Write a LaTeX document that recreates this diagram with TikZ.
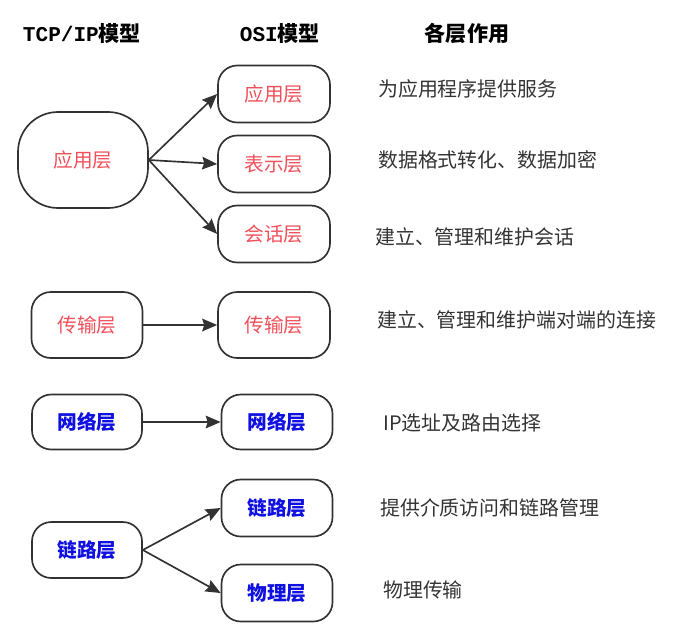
\documentclass[tikz,border=0pt]{standalone}
\usepackage{fontspec}
\usepackage{tikz}
\usetikzlibrary{arrows.meta}
\newfontfamily\cjk{Noto Sans CJK SC}
\newfontfamily\hdmono{Liberation Mono}
\definecolor{layred}{RGB}{240,80,90}
\definecolor{layblue}{RGB}{16,16,224}
\definecolor{linegray}{RGB}{50,50,50}
\pgfdeclarelayer{bg}
\pgfsetlayers{bg,main}

\begin{document}
\begin{tikzpicture}[
        layer/.style={draw=linegray, line width=0.05cm, rounded corners=0.58cm, minimum width=3.36cm, minimum height=1.71cm, inner sep=0pt, font=\cjk\fontsize{16.8}{18}\selectfont},
        upper/.style={layer, text=layred},
        lower/.style={layer, text=layblue, font=\cjk\bfseries\fontsize{16.8}{18}\selectfont},
        head/.style={inner sep=0pt, font=\cjk\bfseries\fontsize{18}{20}\selectfont},
        role/.style={anchor=west, inner sep=0pt, text=black!80, font=\cjk\fontsize{17}{19}\selectfont},
        link/.style={draw=linegray, line width=0.05cm, -{Stealth[length=0.45cm,width=0.38cm,inset=0.06cm]}}]
        \useasboundingbox (0cm, 0cm) rectangle (20.82cm, -19.08cm);
        % column titles
        \node (h0) [head] at (2.46cm, -0.99cm) {{\hdmono\bfseries TCP/IP}模型};
        \node (h1) [head] at (8.40cm, -0.99cm) {{\hdmono\bfseries OSI}模型};
        \node (h2) [head] at (14.01cm, -0.99cm) {各层作用};
        % TCP/IP model
        \node (t0) [upper, minimum width=3.90cm, minimum height=2.88cm, rounded corners=1.2cm] at (2.49cm, -4.80cm) {应用层};
        \node (t1) [upper, minimum width=3.33cm, minimum height=1.98cm] at (2.61cm, -9.75cm) {传输层};
        \node (t2) [lower, minimum width=3.30cm, minimum height=1.65cm] at (2.61cm, -12.66cm) {网络层};
        \node (t3) [lower, minimum width=3.30cm, minimum height=1.68cm] at (2.61cm, -16.50cm) {链路层};
        % OSI model
        \node (o0) [upper] at (8.22cm, -2.82cm) {应用层};
        \node (o1) [upper] at (8.22cm, -4.92cm) {表示层};
        \node (o2) [upper] at (8.22cm, -7.02cm) {会话层};
        \node (o3) [upper, minimum height=1.98cm] at (8.22cm, -9.75cm) {传输层};
        \node (o4) [lower, minimum width=3.33cm, minimum height=1.65cm] at (8.31cm, -12.66cm) {网络层};
        \node (o5) [lower, minimum width=3.33cm] at (8.31cm, -15.24cm) {链路层};
        \node (o6) [lower, minimum width=3.33cm] at (8.31cm, -17.79cm) {物理层};
        % what each layer does
        \node (d0) [role] at (11.34cm, -2.66cm) {为应用程序提供服务};
        \node (d1) [role] at (11.34cm, -4.80cm) {数据格式转化、数据加密};
        \node (d2) [role] at (11.25cm, -7.11cm) {建立、管理和维护会话};
        \node (d3) [role] at (11.31cm, -9.60cm) {建立、管理和维护端对端的连接};
        \node (d4) [role] at (11.49cm, -12.69cm) {IP选址及路由选择};
        \node (d5) [role] at (11.40cm, -15.24cm) {提供介质访问和链路管理};
        \node (d6) [role] at (11.49cm, -17.70cm) {物理传输};
        \begin{pgfonlayer}{bg}
                \draw (t0.east) edge [link] (o0.west);
                \draw (t0.east) edge [link] (o1.west);
                \draw (t0.east) edge [link] (o2.west);
                \draw (t1.east) edge [link] (o3.west);
                \draw (t2.east) edge [link] (o4.west);
                \draw (t3.east) edge [link] (o5.west);
                \draw (t3.east) edge [link] (o6.west);
        \end{pgfonlayer}
\end{tikzpicture}
\end{document}
